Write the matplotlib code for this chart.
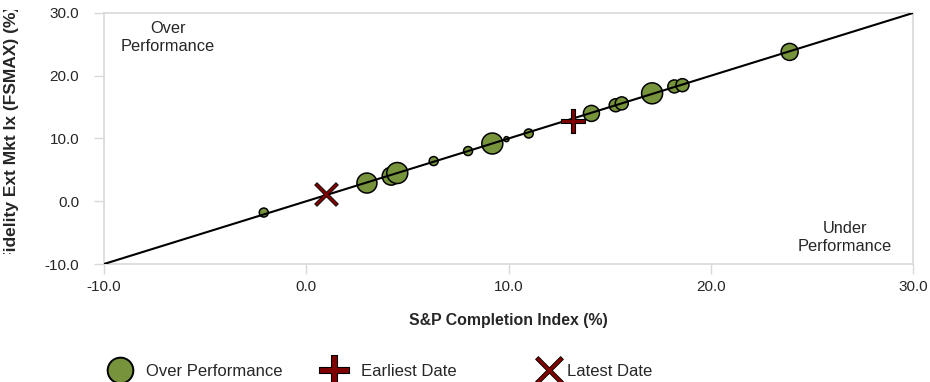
#!/usr/bin/env python3
"""Fund vs index return scatter (bubble) with the 45 degree line."""

import matplotlib
matplotlib.use("Agg")
import matplotlib.pyplot as plt
from matplotlib.lines import Line2D
from matplotlib.path import Path
from matplotlib.transforms import Affine2D, Bbox

# index returns (x) and fund returns (y), in %
index_ret = [-2.1, 3.0, 4.2, 4.5, 6.3, 8.0, 9.2, 9.9, 11.0, 14.1, 15.3, 15.6, 17.1, 18.2, 18.6, 23.9]
fund_ret = [-1.8, 2.9, 4.0, 4.5, 6.4, 8.0, 9.2, 9.9, 10.8, 14.0, 15.3, 15.6, 17.2, 18.3, 18.5, 23.8]
bubble_weight = [9, 20, 18, 21, 9, 9, 21, 5, 9, 16, 13, 13, 21, 13, 13, 17]

earliest = (13.2, 12.8)
latest = (1.0, 1.1)

axis_ticks = [-10.0, 0.0, 10.0, 20.0, 30.0]
axis_min, axis_max = -10.0, 30.0

GREEN = "#77933C"
DARK_RED = "#7F0000"
GREY = "#D9D9D9"
TEXT = "#262626"

plt.rcParams["font.family"] = ["Liberation Sans", "DejaVu Sans"]
plt.rcParams["font.size"] = 11


def plus_path(t=0.2):
    # thick plus sign outline
    v = [(-t, 1), (t, 1), (t, t), (1, t), (1, -t), (t, -t), (t, -1),
         (-t, -1), (-t, -t), (-1, -t), (-1, t), (-t, t), (-t, 1)]
    return Path(v, closed=True)


PLUS = plus_path(0.2)
CROSS = plus_path(0.11).transformed(Affine2D().rotate_deg(45))

fig = plt.figure(figsize=(9.3, 3.82), dpi=100)
ax = fig.add_axes([104 / 930, 1 - 264 / 382, 809 / 930, 251 / 382])

# 45 degree line
ax.plot([axis_min, axis_max], [axis_min, axis_max], color="black", lw=1.5, zorder=3)

sizes = [(w * 0.72) ** 2 for w in bubble_weight]
ax.scatter(index_ret, fund_ret, s=sizes, c=GREEN, edgecolors="black",
           linewidths=1.1, zorder=2)

ax.plot([earliest[0]], [earliest[1]], marker=PLUS, ms=17.5, color=DARK_RED,
        mec="black", mew=0.8, ls="none", zorder=4)
ax.plot([latest[0]], [latest[1]], marker=CROSS, ms=17, color=DARK_RED,
        mec="black", mew=0.6, ls="none", zorder=4)

ax.set_xlim(axis_min, axis_max)
ax.set_ylim(axis_min, axis_max)
ax.set_xticks(axis_ticks)
ax.set_yticks(axis_ticks)
ax.set_xticklabels(["%.1f" % t for t in axis_ticks], color=TEXT)
ax.set_yticklabels(["%.1f" % t for t in axis_ticks], color=TEXT)
ax.tick_params(axis="both", color=GREY, length=7.5, width=1, labelsize=11)
ax.tick_params(axis="x", pad=4)
ax.tick_params(axis="y", pad=10.5)
for sp in ax.spines.values():
    sp.set_color(GREY)
    sp.set_linewidth(1.2)

ax.set_xlabel("S&P Completion Index (%)", fontweight="bold", color=TEXT, fontsize=11.4)
ax.xaxis.set_label_coords(0.5, -(313 - 264) / 251)

# y label is longer than the plot, it gets cut at both ends
ylab = fig.text(12 / 930, 1 - 134 / 382, "Fidelity Ext Mkt Ix (FSMAX) (%)",
                rotation=90, ha="center", va="center", fontweight="bold",
                color=TEXT, fontsize=12.5)
ylab.set_clip_box(Bbox([[0, 382 - 254], [930, 382 - 10]]))
ylab.set_clip_on(True)

ax.text(0.079, 0.904, "Over\nPerformance", transform=ax.transAxes,
        ha="center", va="center", color=TEXT, fontsize=11.8, linespacing=1.25)
ax.text(0.916, 0.104, "Under\nPerformance", transform=ax.transAxes,
        ha="center", va="center", color=TEXT, fontsize=11.8, linespacing=1.25)

# legend, one entry at a time so the spacing matches
entries = [
    (Line2D([], [], marker="o", ms=18.5, color=GREEN, mec="black", mew=1.4, ls="none"),
     "Over Performance", 103 / 930, 0.56),
    (Line2D([], [], marker=PLUS, ms=21.6, color=DARK_RED, mec="black", mew=0.8, ls="none"),
     "Earliest Date", 317 / 930, 0.62),
    (Line2D([], [], marker=CROSS, ms=20, color=DARK_RED, mec="black", mew=0.6, ls="none"),
     "Latest Date", 532 / 930, 0.08),
]
for handle, label, xpos, tpad in entries:
    fig.legend([handle], [label], loc="center left", bbox_to_anchor=(xpos, 1 - 371 / 382),
               frameon=False, handlelength=2.0, handletextpad=tpad, borderpad=0,
               borderaxespad=0, fontsize=12, labelcolor=TEXT)

fig.savefig("out.png", dpi=100)
